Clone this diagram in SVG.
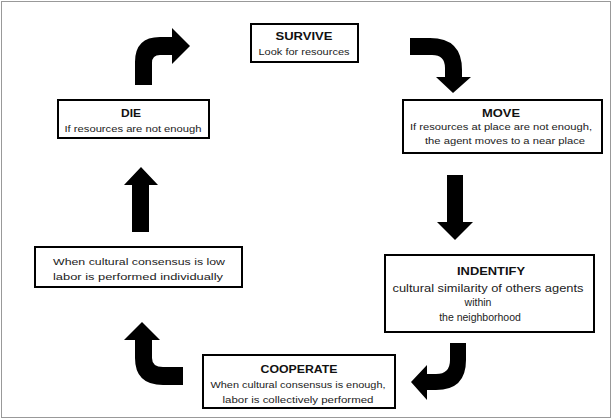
<svg xmlns="http://www.w3.org/2000/svg" width="612" height="419" viewBox="0 0 612 419">
<style>
.box{fill:#fff;stroke:#000;stroke-width:2}
.t{font-family:"Liberation Sans",Arial,sans-serif;font-weight:bold;font-size:11.5px;fill:#111;text-anchor:middle}
.b{font-family:"Liberation Sans",Arial,sans-serif;font-size:9.5px;fill:#222;text-anchor:middle}
.arr{fill:#000}
</style>
<rect x="0" y="0" width="612" height="419" fill="#fff"/>
<rect x="1.5" y="1.5" width="609" height="416" fill="none" stroke="#999" stroke-width="1"/>
<g id="connectors">
<path class="arr" d="M135,85 L135,62 Q135,37 160,37 L172,37 L172,28 L190,46 L172,64 L172,55 L160,55 Q152,55 152,63 L152,85 Z"/>
<path class="arr" d="M410,38 L430,38 Q462,38 462,70 L462,77 L471,77 L453,93 L436,77 L445,77 L445,68 Q445,55 432,55 L410,55 Z"/>
<path class="arr" d="M447,175 L463,175 L463,222 L473,222 L455,240 L437,222 L447,222 Z"/>
<path class="arr" d="M450,343 L466,343 L466,360 Q466,390 436,390 L427,390 L427,400 L411,382 L427,365 L427,374 L436,374 Q450,374 450,360 Z"/>
<path class="arr" d="M183,367 L183,385 L163,385 Q135,385 135,358 L135,340 L124,340 L142,322 L160,340 L152,340 L152,358 Q152,367 163,367 Z"/>
<path class="arr" d="M132,232 L132,185 L124,185 L141,167 L158,185 L149,185 L149,232 Z"/>
</g>
<g id="survive">
<rect class="box" x="251" y="24" width="107" height="38"/>
<text class="t" x="304" y="40" textLength="57" lengthAdjust="spacingAndGlyphs">SURVIVE</text>
<text class="b" x="304" y="55" textLength="91" lengthAdjust="spacingAndGlyphs">Look for resources</text>
</g>
<g id="move">
<rect class="box" x="403" y="100" width="199" height="53"/>
<text class="t" x="501" y="117" textLength="38" lengthAdjust="spacingAndGlyphs">MOVE</text>
<text class="b" x="501" y="130" textLength="182" lengthAdjust="spacingAndGlyphs">If resources at place are not enough,</text>
<text class="b" x="505" y="144" textLength="160" lengthAdjust="spacingAndGlyphs">the agent moves to a near place</text>
</g>
<g id="identify">
<rect class="box" x="385" y="255" width="209" height="77"/>
<text class="t" x="491" y="275" textLength="68" lengthAdjust="spacingAndGlyphs">INDENTIFY</text>
<text class="b" x="488" y="292" textLength="191" lengthAdjust="spacingAndGlyphs" style="font-size:10.5px">cultural similarity of others agents</text>
<text class="b" x="478" y="306" style="font-size:10.5px">within</text>
<text class="b" x="480" y="321" style="font-size:10.5px">the neighborhood</text>
</g>
<g id="cooperate">
<rect class="box" x="203" y="355" width="192" height="53"/>
<text class="t" x="299" y="373" textLength="77" lengthAdjust="spacingAndGlyphs">COOPERATE</text>
<text class="b" x="298" y="388" textLength="175" lengthAdjust="spacingAndGlyphs">When cultural consensus is enough,</text>
<text class="b" x="298" y="403" textLength="151" lengthAdjust="spacingAndGlyphs">labor is collectively performed</text>
</g>
<g id="individual">
<rect class="box" x="35" y="247" width="207" height="40"/>
<text class="b" x="139" y="265" textLength="172" lengthAdjust="spacingAndGlyphs">When cultural consensus is low</text>
<text class="b" x="138" y="280" textLength="170" lengthAdjust="spacingAndGlyphs">labor is performed  individually</text>
</g>
<g id="die">
<rect class="box" x="58" y="100" width="151" height="38"/>
<text class="t" x="131" y="117" textLength="20" lengthAdjust="spacingAndGlyphs">DIE</text>
<text class="b" x="133" y="132" textLength="137" lengthAdjust="spacingAndGlyphs">If resources are not enough</text>
</g>
</svg>
